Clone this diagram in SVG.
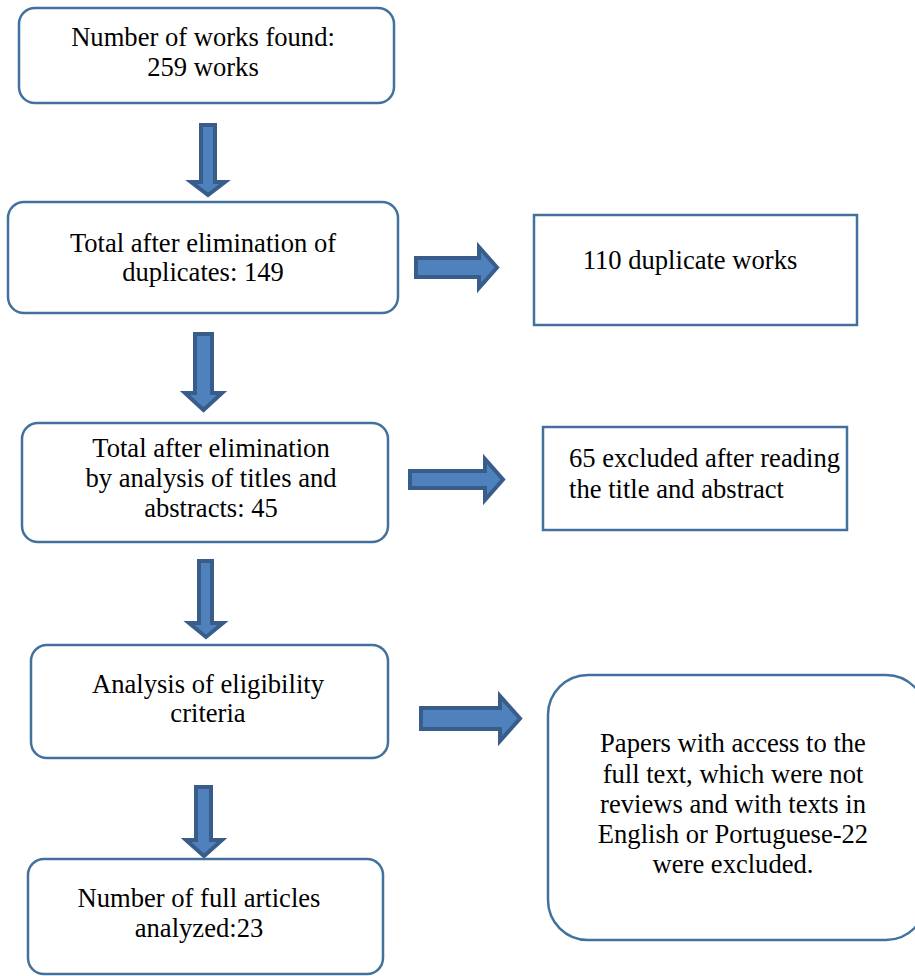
<svg xmlns="http://www.w3.org/2000/svg" width="915" height="976" viewBox="0 0 915 976">
<style>
.box{fill:#ffffff;stroke:#41719C;stroke-width:2.5}
.arrow{fill:#4F81BD;stroke:#385D8A;stroke-width:4;stroke-linejoin:miter}
.t{font-family:'Liberation Serif','Times New Roman',serif;font-size:26.6px;fill:#000000}
.c{text-anchor:middle}
</style>
<rect width="915" height="976" fill="#ffffff"/>
<g id="connectors">
<path class="arrow" d="M201,125 H215 V182 H225 L208,195 L191,182 H201 Z"/>
<path class="arrow" d="M195,334 H212 V393 H222 L203.5,410 L185,393 H195 Z"/>
<path class="arrow" d="M199,561 H212 V623 H223 L206,637 L189,623 H199 Z"/>
<path class="arrow" d="M196,787 H211 V840 H222 L204,856 L186,840 H196 Z"/>
<path class="arrow" d="M416,258 H479 V247 L497,267.5 L479,288 V277 H416 Z"/>
<path class="arrow" d="M410,471 H485 V459 L503,479.5 L485,500 V488 H410 Z"/>
<path class="arrow" d="M421,708 H500 V696 L520,718.5 L500,741 V729 H421 Z"/>
</g>
<g id="found" class="t">
<rect class="box" x="19" y="8" width="375" height="95" rx="16"/>
<text class="c" x="203" y="46">Number of works found:</text>
<text class="c" x="203" y="76">259 works</text>
</g>
<g id="dedup" class="t">
<rect class="box" x="8" y="202" width="390" height="111" rx="16"/>
<text class="c" x="203" y="252">Total after elimination of</text>
<text class="c" x="203" y="281">duplicates: 149</text>
</g>
<g id="duplicates" class="t">
<rect class="box" x="534" y="215" width="323" height="110"/>
<text class="c" x="690" y="269">110 duplicate works</text>
</g>
<g id="titles" class="t">
<rect class="box" x="22" y="423" width="366" height="119" rx="16"/>
<text class="c" x="211" y="457">Total after elimination</text>
<text class="c" x="211" y="487">by analysis of titles and</text>
<text class="c" x="211" y="517">abstracts: 45</text>
</g>
<g id="excluded65" class="t">
<rect class="box" x="543" y="427" width="304" height="103"/>
<text x="569" y="467">65 excluded after reading</text>
<text x="569" y="498">the title and abstract</text>
</g>
<g id="eligibility" class="t">
<rect class="box" x="31" y="645" width="357" height="113" rx="16"/>
<text class="c" x="208" y="693">Analysis of eligibility</text>
<text class="c" x="208" y="722">criteria</text>
</g>
<g id="excluded22" class="t">
<rect class="box" x="548" y="675" width="378" height="265" rx="40"/>
<text class="c" x="733" y="752">Papers with access to the</text>
<text class="c" x="733" y="783">full text, which were not</text>
<text class="c" x="733" y="813">reviews and with texts in</text>
<text class="c" x="733" y="843">English or Portuguese-22</text>
<text class="c" x="733" y="873">were excluded.</text>
</g>
<g id="final" class="t">
<rect class="box" x="28" y="859" width="355" height="115" rx="16"/>
<text class="c" x="199" y="907">Number of full articles</text>
<text class="c" x="199" y="937">analyzed:23</text>
</g>
</svg>
